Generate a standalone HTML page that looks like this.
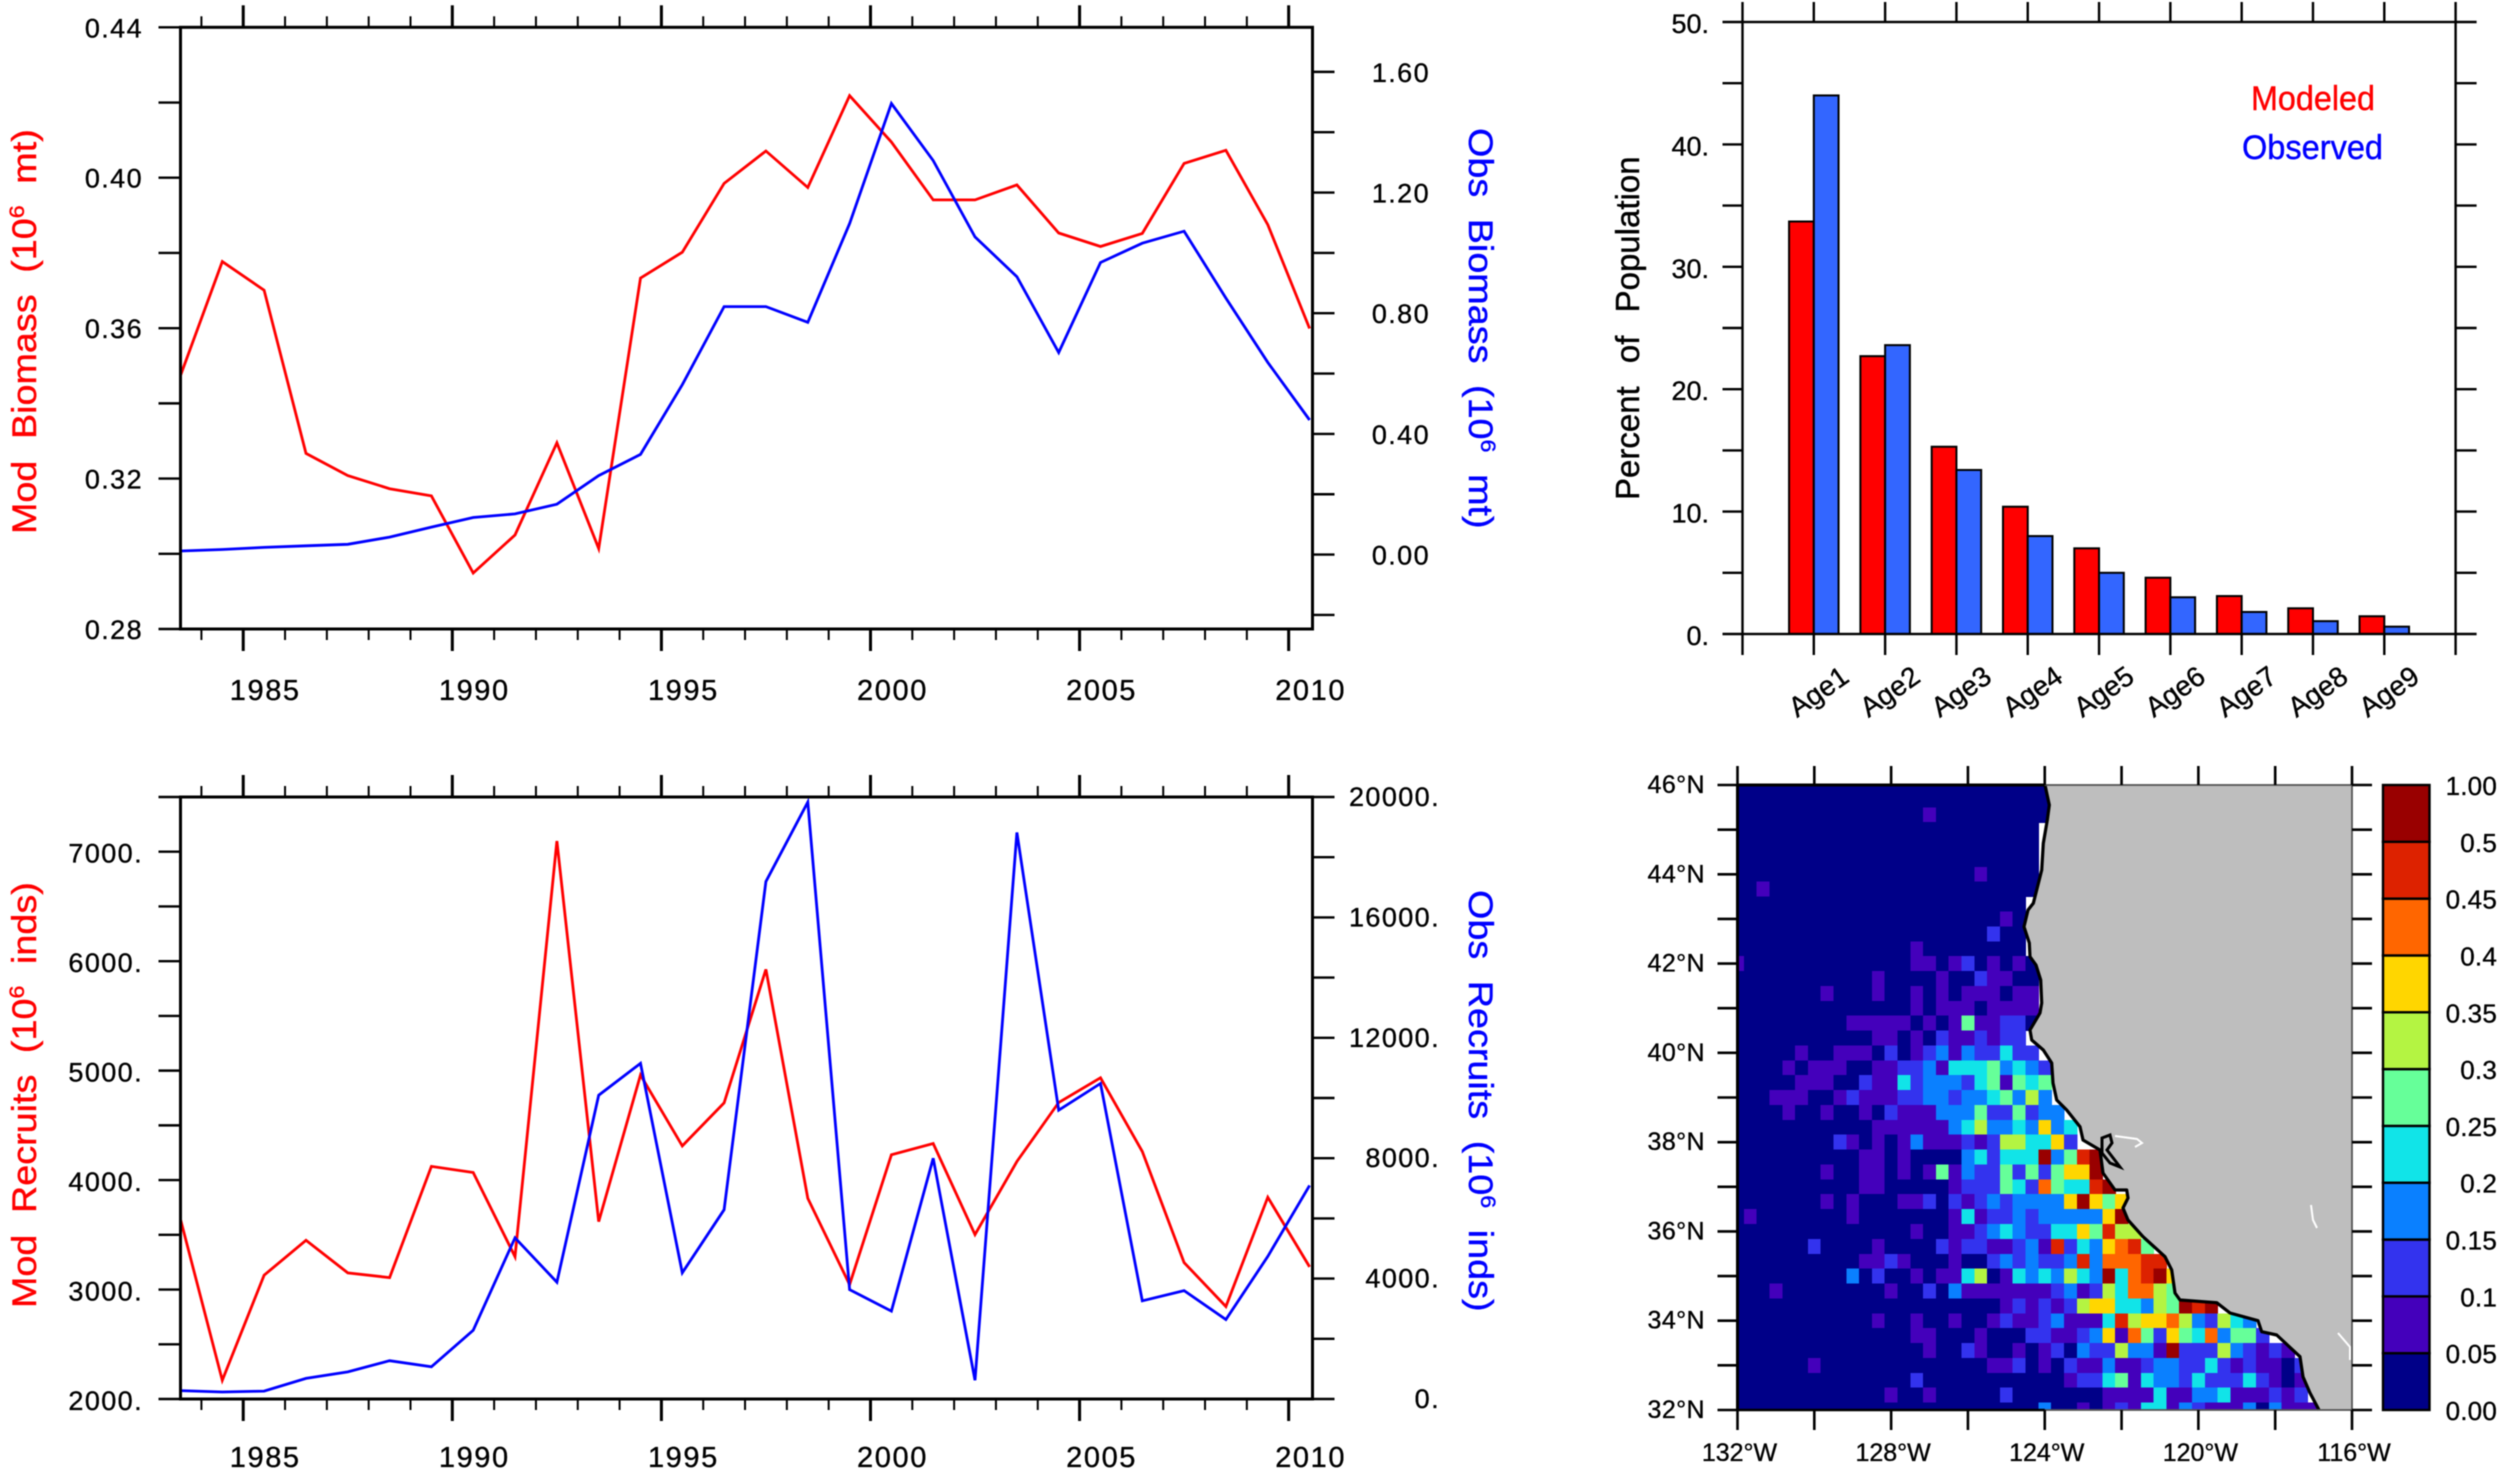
<!DOCTYPE html>
<html lang="en">
<head>
<meta charset="utf-8">
<title>Modeled and observed biomass, recruits, age structure and spatial distribution</title>
<style>
  html, body { margin: 0; padding: 0; background: #fff; }
  svg { display: block; font-family: "Liberation Sans", sans-serif; filter: blur(0.6px); }
  .ttl { stroke-width: 0.4px; paint-order: stroke; }
</style>
</head>
<body>
<svg id="figure" width="2500" height="1473" viewBox="0 0 2500 1473" xmlns="http://www.w3.org/2000/svg">
  <defs>
    <clipPath id="map-clip"><rect x="1737.5" y="785" width="614.5" height="625"/></clipPath>
  </defs>
  <rect x="0" y="0" width="2500" height="1473" fill="#ffffff"/>

  <g id="panel-biomass"></g>
  <g id="panel-recruits"></g>
  <g id="panel-age"></g>
  <g id="panel-map"></g>

  <text class="ttl" transform="translate(36,534) rotate(-90) scale(1.11,1)" font-size="34" fill="#ff0000" stroke="#ff0000" word-spacing="10">Mod Biomass (10<tspan font-size="21" dy="-12">6</tspan><tspan dy="12"> mt)</tspan></text>
  <text class="ttl" transform="translate(1469,128) rotate(90) scale(1.11,1)" font-size="34" fill="#0000ff" stroke="#0000ff" word-spacing="10">Obs Biomass (10<tspan font-size="21" dy="-12">6</tspan><tspan dy="12"> mt)</tspan></text>
  <text class="ttl" transform="translate(36,1308) rotate(-90) scale(1.11,1)" font-size="34" fill="#ff0000" stroke="#ff0000" word-spacing="10">Mod Recruits (10<tspan font-size="21" dy="-12">6</tspan><tspan dy="12"> inds)</tspan></text>
  <text class="ttl" transform="translate(1469,890) rotate(90) scale(1.11,1)" font-size="34" fill="#0000ff" stroke="#0000ff" word-spacing="10">Obs Recruits (10<tspan font-size="21" dy="-12">6</tspan><tspan dy="12"> inds)</tspan></text>
  <text class="ttl" transform="translate(1639,500) rotate(-90)" font-size="33" fill="#000000" stroke="#000000" word-spacing="14">Percent of Population</text>
  <text class="ttl" x="2251" y="110" font-size="34" fill="#ff0000" stroke="#ff0000" textLength="124" lengthAdjust="spacingAndGlyphs">Modeled</text>
  <text class="ttl" x="2242" y="159" font-size="34" fill="#0000ff" stroke="#0000ff" textLength="141" lengthAdjust="spacingAndGlyphs">Observed</text>
</svg>

<script>
// ---- time series data ----
const seriesYears = [1983.5,1984.5,1985.5,1986.5,1987.5,1988.5,1989.5,1990.5,1991.5,1992.5,1993.5,1994.5,1995.5,1996.5,1997.5,1998.5,1999.5,2000.5,2001.5,2002.5,2003.5,2004.5,2005.5,2006.5,2007.5,2008.5,2009.5,2010.5];
const modBiomass = [0.3474,0.3777,0.3701,0.3267,0.3208,0.3173,0.3154,0.2949,0.3050,0.3295,0.3014,0.3733,0.3802,0.3985,0.4071,0.3974,0.4218,0.4095,0.3941,0.3941,0.3981,0.3853,0.3817,0.3852,0.4038,0.4073,0.3875,0.3599];
const obsBiomass = [0.012,0.017,0.024,0.029,0.034,0.058,0.091,0.123,0.135,0.167,0.262,0.332,0.563,0.822,0.822,0.770,1.097,1.495,1.306,1.053,0.921,0.670,0.968,1.032,1.072,0.850,0.637,0.446];
const modRecruits = [3642,2171,3131,3450,3152,3109,4125,4069,3301,7098,3621,4960,4312,4705,5925,3834,3045,4231,4334,3502,4170,4709,4935,4261,3246,2845,3843,3207];
const obsRecruits = [280,233,264,683,900,1273,1071,2283,5357,3882,10093,11149,4193,6289,17189,19829,3634,2919,7997,621,18820,9596,10481,3261,3602,2640,4736,7096];

const xLabelYears = [1985,1990,1995,2000,2005,2010];
const biomassLeftTicks = [0.28,0.30,0.32,0.34,0.36,0.38,0.40,0.42,0.44];
const biomassLeftLabels = ["0.28","0.32","0.36","0.40","0.44"];
const biomassRightTicks = [-0.2,0,0.2,0.4,0.6,0.8,1.0,1.2,1.4,1.6];
const biomassRightLabels = ["0.00","0.40","0.80","1.20","1.60"];
const recruitsLeftTicks = [2000,2500,3000,3500,4000,4500,5000,5500,6000,6500,7000,7500];
const recruitsLeftLabels = ["2000.","3000.","4000.","5000.","6000.","7000."];
const recruitsRightTicks = [0,2000,4000,6000,8000,10000,12000,14000,16000,18000,20000];
const recruitsRightLabels = ["0.","4000.","8000.","12000.","16000.","20000."];

// ---- age structure data ----
const ageCategories = ["Age1","Age2","Age3","Age4","Age5","Age6","Age7","Age8","Age9"];
const modeledPercent = [33.7,22.7,15.3,10.4,7.0,4.6,3.1,2.1,1.45];
const observedPercent = [44.0,23.6,13.4,8.0,5.0,3.0,1.8,1.05,0.6];
const ageYTicks = [0,5,10,15,20,25,30,35,40,45,50];
const ageYLabels = ["0.","10.","20.","30.","40.","50."];

// ---- map data: one string per latitude row (46N downward), one char per 1/3 degree column
// 0..9,a = colour class; columns past the end of a string have no data
const mapRows = [
"0000000000 0000000000 00000",
"0000000000 0000000000 00000",
"0000000000 0000010000 00000",
"0000000000 0000000000 0000",
"0000000000 0000000000 0000",
"0000000000 0000000000 0000",
"0000000000 0000000001 0000",
"0010000000 0000000000 0000",
"0000000000 0000000000 000",
"0000000000 0000000000 010",
"0000000000 0000000000 200",
"0000000000 0000100000 000",
"1000000000 0000110120 1010",
"0000000000 0100001002 1100",
"0000000100 0100101011 1011",
"0000000000 0000101110 1111",
"0000000001 1111010151 1220",
"0000000000 0110102112 122",
"0000010011 1020123132 2422",
"0000101110 0112231444 53432",
"0000011100 2114233324 51545",
"0001110012 1112233233 45363",
"0000100100 1021113335 225233",
"0000000000 0111111346 3343734",
"0000000021 0101311121 2664472",
"0000000000 1101000034 2444a359a",
"0000000100 1101015132 25252577a",
"0000000000 1100000122 254285449a",
"0000000101 0001120212 3233337a757",
"0100000001 0000000141 2232333337a",
"0000000000 0000100112 343224475966",
"0000002000 0100002122 1123192437895",
"0000000000 1121000100 23232239388899",
"0000000003 0200101146 014343643a489a7",
"0001000000 0010020311 111112312648865",
"0000000000 0000000000 012121267744365a9a",
"0000000000 0100100100 121123111496778632643",
"0000000000 0000110001 0002211237185275483552",
"0000000000 0000010021 0010120322 6331a22263 2121",
"0000001000 0000000000 1120102113 1123322421 21102",
"0000000000 0000200000 0000001224 5143324222 42101",
"0000000000 0010010000 0200000001 1114113341 11212",
"0000000000 0000000000 0000300101 2144132111 303111"
];
const colorClasses = ["#000088","#4400bb","#3333ee","#0a80ff","#11e4e8","#66ff99","#b4f442","#ffd600","#ff6600","#dd2200","#990000"];
const colorbarLabels = ["0.00","0.05","0.1","0.15","0.2","0.25","0.3","0.35","0.4","0.45","0.5","1.00"];
const latTicks = [32,33,34,35,36,37,38,39,40,41,42,43,44,45,46];
const latLabels = [32,34,36,38,40,42,44,46];
const lonTicks = [132,130,128,126,124,122,120,118,116];
const lonLabels = [132,128,124,120,116];

// ---- helpers ----
const SVGNS = "http://www.w3.org/2000/svg";
function mk(tag, attrs, parent) {
  const el = document.createElementNS(SVGNS, tag);
  for (const k in attrs) el.setAttribute(k, attrs[k]);
  parent.appendChild(el);
  return el;
}
function scale(d0, d1, r0, r1) {
  return function (v) { return r0 + (v - d0) / (d1 - d0) * (r1 - r0); };
}
function seg(parent, x1, y1, x2, y2, w, color, name) {
  const el = mk("line", { x1: x1, y1: y1, x2: x2, y2: y2, stroke: color, "stroke-width": w }, parent);
  
  
  return el;
}
function label(parent, str, x, y, anchor, size, spacing, color, name) {
  const el = mk("text", { x: x, y: y, "text-anchor": anchor, "font-size": size, "letter-spacing": spacing, fill: color, stroke: color, "stroke-width": 0.35 }, parent);
  el.textContent = str;
  
  
  return el;
}
function frame(parent, L, T, R, B, w, color, name) {
  const el = mk("rect", { x: L, y: T, width: R - L, height: B - T, fill: "none", stroke: color, "stroke-width": w }, parent);
  
  
  return el;
}
function series(parent, xs, ys, xf, yf, color, name) {
  const pts = xs.map(function (x, i) { return xf(x).toFixed(1) + "," + yf(ys[i]).toFixed(1); }).join(" ");
  const el = mk("polyline", { points: pts, fill: "none", stroke: color, "stroke-width": 2.8, "stroke-linejoin": "miter" }, parent);
  
  
  return el;
}

// ---- time series panels ----
function drawTimePanel(g, L, T, R, B, leftDomain, rightDomain, leftVals, rightVals, leftTicks, leftLabels, rightTicks, rightLabels, yearBase, leftDy, rightDy, labelX, rightLabelX, prefix) {
  const x = scale(1983.5, 2010.57, L, R);
  const yL = scale(leftDomain[0], leftDomain[1], B, T);
  const yR = scale(rightDomain[0], rightDomain[1], B, T);
  series(g, seriesYears, leftVals, x, yL, "#ff0000", prefix + "-modeled-line");
  series(g, seriesYears, rightVals, x, yR, "#0000ff", prefix + "-observed-line");
  for (let yr = 1984; yr <= 2010; yr++) {
    const major = yr % 5 === 0;
    const len = major ? 22 : 11;
    seg(g, x(yr), T, x(yr), T - len, major ? 3 : 2, "#000", prefix + "-top-tick");
    seg(g, x(yr), B, x(yr), B + len, major ? 3 : 2, "#000", prefix + "-bottom-tick");
  }
  leftTicks.forEach(function (v) { seg(g, L - 22, yL(v), L, yL(v), 2.4, "#000", prefix + "-left-tick"); });
  rightTicks.forEach(function (v) { seg(g, R, yR(v), R + 22, yR(v), 2.4, "#000", prefix + "-right-tick"); });
  leftLabels.forEach(function (s) { label(g, s, labelX, yL(parseFloat(s)) + leftDy, "end", 27, 1.4, "#000", prefix + "-left-tick-label"); });
  rightLabels.forEach(function (s) { label(g, s, rightLabelX, yR(parseFloat(s)) + rightDy, "end", 27, 1.4, "#000", prefix + "-right-tick-label"); });
  xLabelYears.forEach(function (yr) { label(g, String(yr), x(yr) + 22, yearBase, "middle", 29, 1.6, "#000", prefix + "-year-label"); });
  frame(g, L, T, R, B, 3, "#000", prefix + "-plot-frame");
}
drawTimePanel(document.getElementById("panel-biomass"), 180.5, 27.3, 1312.5, 629, [0.28, 0.44], [-0.2466, 1.7477], modBiomass, obsBiomass, biomassLeftTicks, biomassLeftLabels, biomassRightTicks, biomassRightLabels, 700, 10, 10, 143, 1430, "biomass");
drawTimePanel(document.getElementById("panel-recruits"), 180.5, 797, 1312.5, 1399, [2000, 7500], [0, 20000], modRecruits, obsRecruits, recruitsLeftTicks, recruitsLeftLabels, recruitsRightTicks, recruitsRightLabels, 1467, 11, 9, 143, 1440, "recruits");

// ---- age structure panel ----
(function () {
  const g = document.getElementById("panel-age");
  const L = 1742.5, R = 2455.6, T = 22, B = 634;
  const x = scale(0, 10, L, R);
  const y = scale(0, 50, B, T);
  const barHalf = 0.347;
  ageCategories.forEach(function (name, i) {
    const pos = i + 1;
    const r = mk("rect", { x: x(pos - barHalf), y: y(modeledPercent[i]), width: x(pos) - x(pos - barHalf), height: y(0) - y(modeledPercent[i]), fill: "#ff0000", stroke: "#000", "stroke-width": 2 }, g);
    
    
    const b = mk("rect", { x: x(pos), y: y(observedPercent[i]), width: x(pos + barHalf) - x(pos), height: y(0) - y(observedPercent[i]), fill: "#3366ff", stroke: "#000", "stroke-width": 2 }, g);
    
    
    const t = label(g, name, 0, 0, "middle", 28, 0, "#000", "age-category-label");
    t.setAttribute("transform", "translate(" + (x(pos) + 5) + ",692) rotate(-35) translate(0,9)");
  });
  for (let p = 0; p <= 10; p++) {
    seg(g, x(p), T, x(p), T - 20, 2.4, "#000", "age-top-tick");
    seg(g, x(p), B, x(p), B + 21, 2.4, "#000", "age-bottom-tick");
  }
  ageYTicks.forEach(function (v) {
    seg(g, L - 20, y(v), L, y(v), 2.4, "#000", "age-left-tick");
    seg(g, R, y(v), R + 21, y(v), 2.4, "#000", "age-right-tick");
  });
  ageYLabels.forEach(function (s) { label(g, s, 1709, y(parseFloat(s)) + 11, "end", 27, 0, "#000", "age-y-tick-label"); });
  frame(g, L, T, R, B, 2.4, "#000", "age-plot-frame");
})();

// ---- map panel ----
(function () {
  const g = document.getElementById("panel-map");
  const L = 1737.5, R = 2352, T = 785, B = 1410;
  const xm = scale(-132, -116, L, R);
  const ym = scale(46, 32, T, B);
  const cells = mk("g", { "clip-path": "url(#map-clip)", "shape-rendering": "crispEdges" }, g);
  
  
  const cellW = xm(-131 - 2 / 3) - xm(-132);
  const cellH = ym(46 - 1 / 3) - ym(46);
  mapRows.forEach(function (raw, row) {
    const s = raw.replace(/ /g, "");
    for (let col = 0; col < s.length; col++) {
      const lon = -132 + col / 3;
      const lat = 46 - row / 3;
      const cell = mk("rect", { x: xm(lon) - cellW / 2, y: ym(lat) - cellH / 2, width: cellW + 0.6, height: cellH + 0.6, fill: colorClasses[parseInt(s[col], 16)] }, cells);
      
      
    }
  });

  const coast = "M2045,785 L2049.3,805 L2047.3,820 L2043.3,843.3 L2041.7,870 L2036.7,890 L2033.3,903.3 L2028,910 L2024,926.7 L2029.3,943 L2030,956.7 L2036,965 L2040.7,980 L2041.7,1003 L2040,1013 L2030,1030 L2031.7,1040 L2043.3,1050 L2051.7,1063 L2053,1083 L2056.7,1100 L2066.7,1110 L2080,1126.7 L2083,1140 L2100,1150 L2103,1173 L2115,1190 L2126.7,1190 L2128,1198 L2123,1208 L2128,1220 L2143,1236.7 L2165,1256.7 L2171.7,1270 L2175,1293 L2180,1300 L2216.7,1302.7 L2230,1313 L2258,1320.7 L2261.7,1331.7 L2276.7,1335 L2300,1356.7 L2303,1376.7 L2310,1393 L2319,1410";
  const land = mk("path", { d: coast + " L2352,1410 L2352,785 Z", fill: "#bebebe" }, g);
  
  
  ["M2115,1136 L2137,1139 L2142,1143 L2135,1147", "M2311,1205 L2313,1220 L2317,1228", "M2338,1333 L2350,1347 L2350,1360"].forEach(function (d) {
    const lake = mk("path", { d: d, fill: "none", stroke: "#ffffff", "stroke-width": 2 }, g);
    
    
  });
  const line = mk("path", { d: coast, fill: "none", stroke: "#000", "stroke-width": 3.2, "stroke-linejoin": "round" }, g);
  
  
  const bay = mk("path", { d: "M2102,1138 L2110,1135 L2112,1143 L2107,1150 L2117,1163 L2120,1167 L2110,1163 L2102,1153 Z", fill: "#bebebe", stroke: "#000", "stroke-width": 3 }, g);
  
  

  frame(g, L, T, R, B, 1.8, "#555", "map-plot-frame");
  seg(g, L, T, L, B, 3, "#000", "map-left-border");
  seg(g, L, T, xm(-124), T, 3, "#000", "map-top-border");
  seg(g, L, B, xm(-124), B, 2.4, "#000", "map-bottom-border");

  latTicks.forEach(function (lat) {
    seg(g, L - 20, ym(lat), L, ym(lat), 2.6, "#000", "map-left-tick");
    seg(g, R, ym(lat), R + 20, ym(lat), 2.6, "#000", "map-right-tick");
  });
  lonTicks.forEach(function (lon) {
    seg(g, xm(-lon), T, xm(-lon), T - 19, 2.6, "#000", "map-top-tick");
    seg(g, xm(-lon), B, xm(-lon), B + 20, 2.6, "#000", "map-bottom-tick");
  });
  latLabels.forEach(function (lat) { label(g, lat + "\u00B0N", 1705, ym(lat) + 8, "end", 25, 0.4, "#000", "latitude-label"); });
  lonLabels.forEach(function (lon) { label(g, lon + "\u00B0W", xm(-lon) + 2, 1461, "middle", 25, 0, "#000", "longitude-label"); });

  // colorbar
  const n = colorClasses.length;
  const yc = scale(0, n, B, T);
  colorClasses.forEach(function (c, i) {
    const box = mk("rect", { x: 2383, y: yc(i + 1), width: 46.5, height: yc(i) - yc(i + 1), fill: c, stroke: "#000", "stroke-width": 2.4 }, g);
    
    
  });
  colorbarLabels.forEach(function (s, i) { label(g, s, 2497, yc(i) + 10, "end", 26, 0.2, "#000", "colorbar-label"); });
})();
</script>
</body>
</html>
